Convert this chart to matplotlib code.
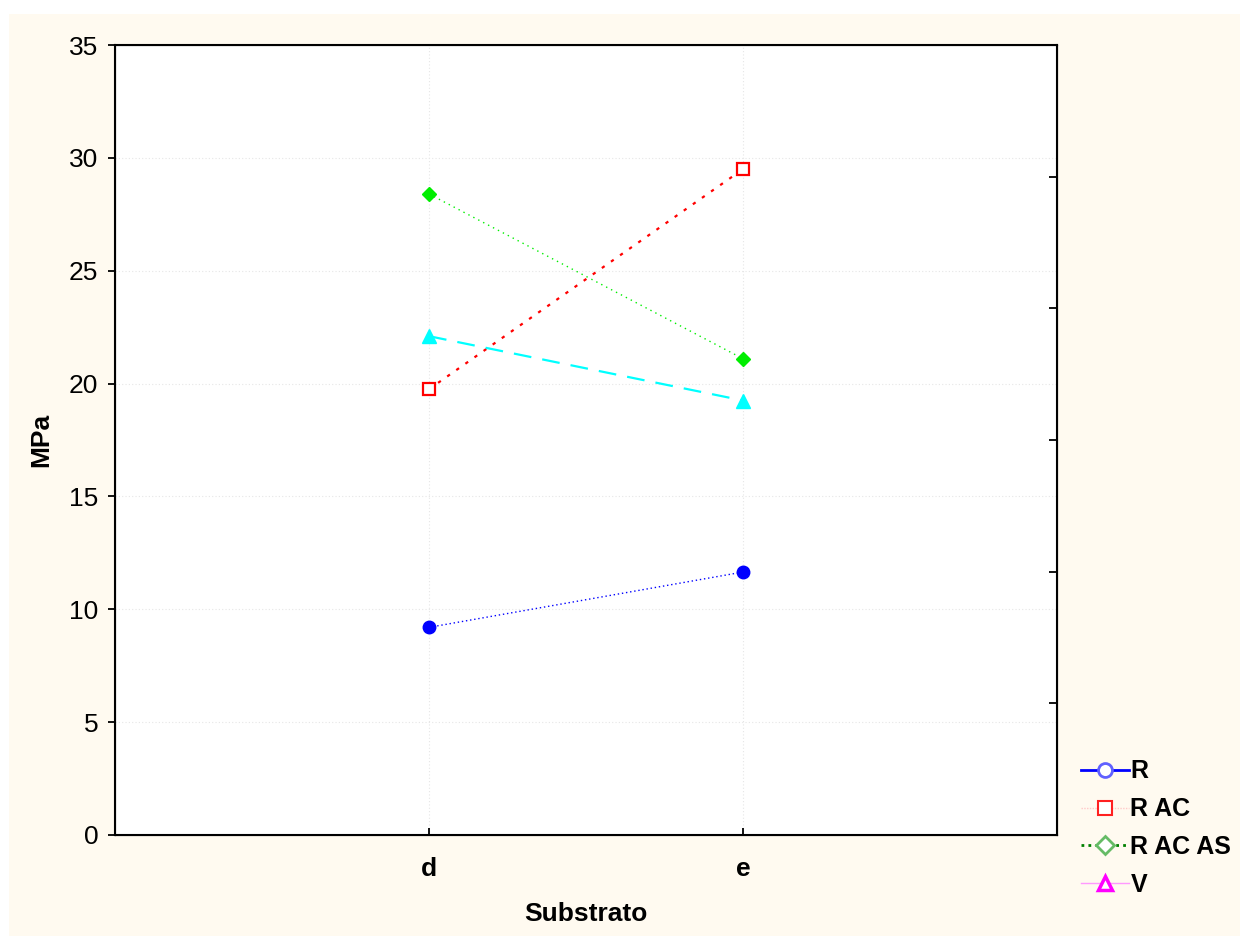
import matplotlib.pyplot as plt
from matplotlib.lines import Line2D
from matplotlib.patches import Rectangle

plt.rcParams['font.family'] = ['Liberation Sans', 'DejaVu Sans']

# data
substrato = ['d', 'e']
r_vals = [9.2, 11.65]
r_ac_vals = [19.75, 29.5]
r_ac_as_vals = [28.4, 21.1]
v_vals = [22.1, 19.25]
labels = ['R', 'R AC', 'R AC AS', 'V']
yticks = [0, 5, 10, 15, 20, 25, 30, 35]


def main():
    fig = plt.figure(figsize=(12.4, 9.36), dpi=100, facecolor='white')
    # cream background panel
    fig.patches.append(Rectangle((9 / 1240, 0), 1 - 9 / 1240, 1 - 14 / 936,
                                 transform=fig.transFigure, facecolor='#FFFAF0',
                                 edgecolor='none', zorder=-10))

    ax = fig.add_axes([115 / 1240, 1 - 835 / 936, 942 / 1240, 790 / 936])
    ax.set_facecolor('white')
    x = list(range(len(substrato)))

    ax.plot(x, r_vals, color='#0000FF', linestyle=(0, (1, 2)), linewidth=1,
            marker='o', markersize=9, zorder=3)
    ax.plot(x, r_ac_vals, color='#FF0000', linestyle=(0, (1.5, 3.5)), linewidth=1.6,
            marker='s', markersize=9, markerfacecolor='white', markeredgewidth=1.6,
            zorder=3)
    ax.plot(x, r_ac_as_vals, color='#00EE00', linestyle=(0, (1, 3)), linewidth=1,
            marker='D', markersize=7, zorder=3)
    ax.plot(x, v_vals, color='#00FFFF', linestyle=(0, (8, 5)), linewidth=1.6,
            marker='^', markersize=10, zorder=3)

    ax.set_xlim(-1, 2)
    ax.set_ylim(0, 35)
    ax.set_xticks(x)
    ax.set_xticklabels(substrato, fontsize=19, fontweight='bold')
    ax.set_yticks(yticks)
    ax.set_yticklabels([str(t) for t in yticks], fontsize=19)
    ax.tick_params(axis='x', direction='in', length=5, width=1.3, pad=16)
    ax.tick_params(axis='y', direction='out', length=5, width=1.3, pad=7)
    ax.grid(True, color='#E6E6E6', linestyle=(0, (1, 2)), linewidth=0.8)
    for s in ax.spines.values():
        s.set_linewidth(1.5)

    # right axis with its own (unlabelled) ticks
    ax2 = ax.twinx()
    ax2.set_ylim(0, 35)
    ax2.set_yticks([35 * k / 6 for k in range(1, 6)])
    ax2.set_yticklabels([])
    ax2.tick_params(axis='y', direction='in', length=6, width=1.3)

    ax.set_xlabel('Substrato', fontsize=19, fontweight='bold', labelpad=15)
    ax.set_ylabel('MPa', fontsize=19, fontweight='bold', labelpad=11)

    handles = [
        Line2D([], [], color='#0000FF', linewidth=2, marker='o', markersize=10,
               markerfacecolor='white', markeredgecolor='#6060FF', markeredgewidth=2),
        Line2D([], [], color='#FFC8C8', linewidth=1, linestyle=(0, (1, 1)), marker='s',
               markersize=10, markerfacecolor='white', markeredgecolor='#FF2020',
               markeredgewidth=1.5),
        Line2D([], [], color='#008000', linewidth=2, linestyle=(0, (1, 1.5)), marker='D',
               markersize=9, markerfacecolor='white', markeredgecolor='#66BB66',
               markeredgewidth=2),
        Line2D([], [], color='#FF99FF', linewidth=1, marker='^', markersize=10,
               markerfacecolor='white', markeredgecolor='#FF00FF', markeredgewidth=2.5),
    ]
    fig.legend(handles, labels, loc='upper left',
               bbox_to_anchor=(1068 / 1240, 1 - 747 / 936), frameon=False,
               prop={'size': 18, 'weight': 'bold'}, handlelength=1.95,
               handletextpad=0.05, labelspacing=0.55, borderpad=0)

    fig.savefig('out.png', dpi=100, facecolor='white')


if __name__ == '__main__':
    main()
